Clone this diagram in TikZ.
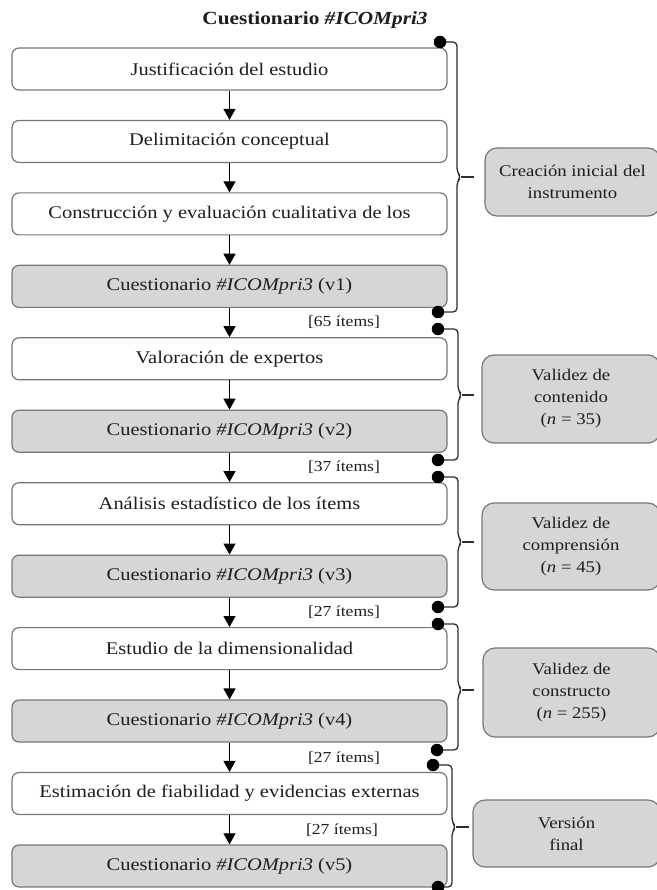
\documentclass[tikz,border=0pt]{standalone}
\usepackage{fontspec}
\setmainfont{Liberation Serif}[FakeStretch=1.15]
\usetikzlibrary{arrows.meta}
\definecolor{boxline}{HTML}{777777}
\definecolor{boxfill}{HTML}{D6D6D6}
\definecolor{txt}{HTML}{1E1E1E}
\definecolor{brk}{HTML}{2E2E2E}
\tikzset{
  stage/.style={draw=boxline, line width=1.2pt, rounded corners=7pt, fill=white,
    minimum width=435pt, minimum height=42pt, inner sep=0pt, text=txt,
    font=\fontsize{17.8}{21}\selectfont},
  version/.style={stage, fill=boxfill},
  phase/.style={draw=boxline, line width=1.2pt, rounded corners=12pt, fill=boxfill,
    inner sep=0pt, text=txt, align=center, font=\fontsize{16.3}{22}\selectfont},
  flow/.style={draw=black, line width=1.2pt, -{Triangle[width=12pt,length=11pt]}},
  items/.style={text=txt, font=\fontsize{15.3}{18}\selectfont, inner sep=0pt},
  dot/.style={circle, fill=black, minimum size=12.5pt, inner sep=0pt},
  brace/.style={draw=brk, line width=1.3pt, rounded corners=4pt},
  tick/.style={draw=brk, line width=1.3pt}
}
\begin{document}
\begin{tikzpicture}[x=1pt,y=-1pt]
\useasboundingbox[fill=white] (0,0) rectangle (656,890);

\node[text=txt, font=\fontsize{18.5}{22}\selectfont\bfseries] (title) at (315,20) {Cuestionario \textit{\#ICOMpri3}};

% left column
\node[stage]   (b0)  at (229.5,69)     {Justificación del estudio};
\node[stage]   (b1)  at (229.5,141.45) {Delimitación conceptual};
\node[stage]   (b2)  at (229.5,213.9)  {Construcción y evaluación cualitativa de los};
\node[version] (b3)  at (229.5,286.35) {Cuestionario \textit{\#ICOMpri3} (v1)};
\node[stage]   (b4)  at (229.5,358.8)  {Valoración de expertos};
\node[version] (b5)  at (229.5,431.25) {Cuestionario \textit{\#ICOMpri3} (v2)};
\node[stage]   (b6)  at (229.5,503.7)  {Análisis estadístico de los ítems};
\node[version] (b7)  at (229.5,576.15) {Cuestionario \textit{\#ICOMpri3} (v3)};
\node[stage]   (b8)  at (229.5,648.6)  {Estudio de la dimensionalidad};
\node[version] (b9)  at (229.5,721.05) {Cuestionario \textit{\#ICOMpri3} (v4)};
\node[stage]   (b10) at (229.5,793.5)  {Estimación de fiabilidad y evidencias externas};
\node[version] (b11) at (229.5,865.95) {Cuestionario \textit{\#ICOMpri3} (v5)};

\foreach \a/\b in {b0/b1,b1/b2,b2/b3,b3/b4,b4/b5,b5/b6,b6/b7,b7/b8,b8/b9,b9/b10,b10/b11}
  \draw[flow] (\a.south) -- (\b.north);

% item counts
\node[items] (i1) at (344,322) {[65 ítems]};
\node[items] (i2) at (344,467) {[37 ítems]};
\node[items] (i3) at (344,612) {[27 ítems]};
\node[items] (i4) at (344,758) {[27 ítems]};
\node[items] (i5) at (342,830) {[27 ítems]};

% right column
\node[phase, minimum width=175pt, minimum height=68pt] (r1) at (572.5,182) {Creación inicial del\\instrumento};
\node[phase, minimum width=178pt, minimum height=88pt] (r2) at (571,399) {Validez de\\contenido\\(\textit{n} = 35)};
\node[phase, minimum width=178pt, minimum height=87pt] (r3) at (571,546.5) {Validez de\\comprensión\\(\textit{n} = 45)};
\node[phase, minimum width=177pt, minimum height=89pt] (r4) at (571.5,692.5) {Validez de\\constructo\\(\textit{n} = 255)};
\node[phase, minimum width=187pt, minimum height=67pt] (r5) at (566.5,833.5) {Versión\\final};

% brackets
\coordinate (k1) at (461,177);  \coordinate (e1) at (474,177);
\coordinate (k2) at (462,395);  \coordinate (e2) at (474,395);
\coordinate (k3) at (462,542);  \coordinate (e3) at (474,542);
\coordinate (k4) at (462,690);  \coordinate (e4) at (474,690);
\coordinate (k5) at (456,827);  \coordinate (e5) at (469,827);

\draw[brace] (440,42) -- (457,42) -- (457,172) -- (k1) -- (457,182) -- (457,312) -- (438,312);
\draw[brace] (438,329) -- (458,329) -- (458,390) -- (k2) -- (458,400) -- (458,460) -- (438,460);
\draw[brace] (438,477) -- (458,477) -- (458,537) -- (k3) -- (458,547) -- (458,607) -- (438,607);
\draw[brace] (438,624) -- (458,624) -- (458,685) -- (k4) -- (458,695) -- (458,750) -- (437,750);
\draw[brace] (433,765) -- (452,765) -- (452,822) -- (k5) -- (452,832) -- (452,887) -- (438,887);
\foreach \i in {1,...,5} \draw[tick] (k\i) -- (e\i);

\node[dot] (d1a) at (440,42) {};  \node[dot] (d1b) at (438,312) {};
\node[dot] (d2a) at (438,329) {}; \node[dot] (d2b) at (438,460) {};
\node[dot] (d3a) at (438,477) {}; \node[dot] (d3b) at (438,607) {};
\node[dot] (d4a) at (438,624) {}; \node[dot] (d4b) at (437,750) {};
\node[dot] (d5a) at (433,765) {}; \node[dot] (d5b) at (438,887) {};
\end{tikzpicture}
\end{document}
